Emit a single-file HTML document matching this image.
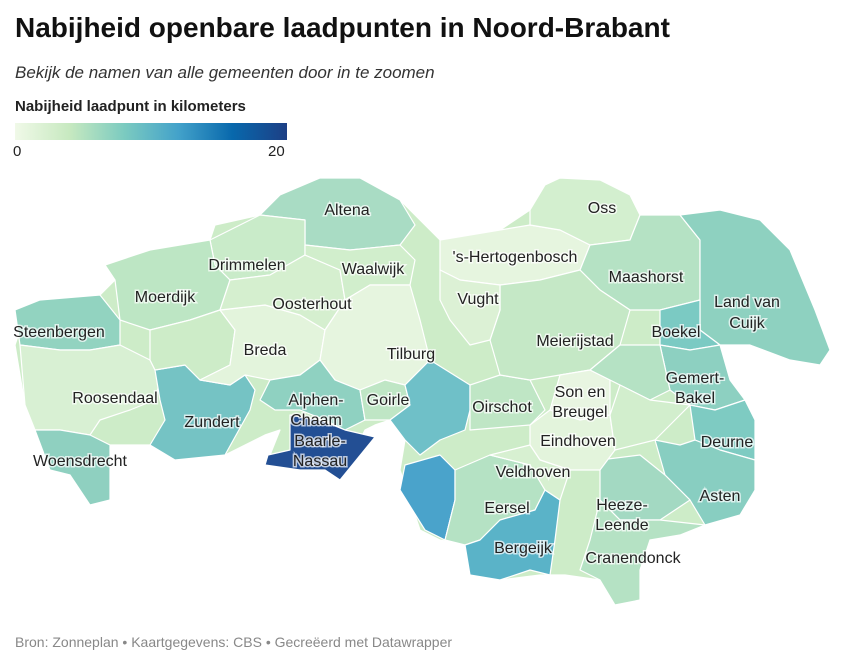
<!DOCTYPE html>
<html><head><meta charset="utf-8"><style>
body{margin:0;background:#fff;width:849px;height:666px;overflow:hidden;font-family:"Liberation Sans",sans-serif;}
.t{position:absolute;left:15px;top:12px;font-size:28px;font-weight:bold;color:#111;}
.s{position:absolute;left:15px;top:63px;font-size:17px;font-style:italic;color:#333;}
.lt{position:absolute;left:15px;top:98px;font-size:15px;font-weight:bold;color:#222;}
.bar{position:absolute;left:15px;top:123px;width:272px;height:17px;background:linear-gradient(to right,#f0f9e8,#c7e9c0,#7ccbc0,#43a2ca,#0868ac,#1d3f85);}
.l0{position:absolute;left:13px;top:143px;font-size:15px;color:#222}
.l20{position:absolute;left:268px;top:143px;font-size:15px;color:#222}
.f{position:absolute;left:15px;top:634px;font-size:14px;color:#888}
svg{position:absolute;left:0;top:0}
svg polygon{stroke:#fff;stroke-width:1.2;stroke-linejoin:round}
svg text{font-family:"Liberation Sans",sans-serif;font-size:16px;fill:#222;paint-order:stroke;stroke:rgba(255,255,255,0.7);stroke-width:3px;text-anchor:middle}
</style></head><body>
<div class="t">Nabijheid openbare laadpunten in Noord-Brabant</div>
<div class="s">Bekijk de namen van alle gemeenten door in te zoomen</div>
<div class="lt">Nabijheid laadpunt in kilometers</div>
<div class="bar"></div><div class="l0">0</div><div class="l20">20</div>
<svg width="849" height="666">
<polygon fill="#cdecc8" points="105,265 150,250 210,240 215,225 260,215 280,195 320,178 360,178 400,200 420,220 440,240 470,235 500,230 530,210 545,185 560,178 600,180 630,195 640,215 680,215 720,210 760,220 790,250 815,310 830,350 820,365 790,360 750,345 720,345 730,380 745,400 755,420 755,490 740,515 705,525 680,535 650,540 640,570 640,600 615,605 600,580 565,575 540,575 500,580 470,575 465,545 440,540 420,530 400,470 405,440 390,420 375,425 365,430 345,470 300,465 265,460 270,455 280,430 265,435 255,440 225,455 175,460 150,445 110,445 110,500 90,505 70,475 50,470 35,430 25,405 15,345 20,330 15,310 40,300 100,295 115,280"/>
<polygon fill="#a9dcc4" points="260,215 280,195 320,178 360,178 400,200 415,225 400,245 350,250 305,245 305,220"/>
<polygon fill="#c9ebc9" points="210,240 260,215 305,220 305,255 270,275 230,280 215,265"/>
<polygon fill="#bde6c4" points="105,265 150,250 210,240 215,265 230,280 220,310 190,320 150,330 120,320 115,280"/>
<polygon fill="#92d3c0" points="15,310 40,300 100,295 120,320 120,345 90,350 60,350 20,345"/>
<polygon fill="#d8f0d3" points="20,345 60,350 90,350 120,345 150,360 160,380 155,400 130,410 100,420 90,435 60,430 35,430 25,405"/>
<polygon fill="#8fd0c0" points="35,430 60,430 90,435 110,445 110,500 90,505 70,475 50,470"/>
<polygon fill="#75c3c4" points="155,370 185,365 200,380 230,385 245,375 255,390 250,410 225,455 175,460 150,445 165,420 160,400"/>
<polygon fill="#cdecc8" points="150,330 190,320 220,310 235,330 230,365 200,380 185,365 155,370 150,360"/>
<polygon fill="#e3f4dc" points="220,310 265,305 300,315 325,330 320,360 300,375 270,380 245,375 230,385 200,380 230,365 235,330"/>
<polygon fill="#d5efcf" points="230,280 270,275 305,255 340,270 345,300 325,330 300,315 265,305 220,310"/>
<polygon fill="#d1eecc" points="305,245 350,250 400,245 415,260 410,285 370,285 345,300 340,270 305,255"/>
<polygon fill="#e6f5df" points="325,330 345,300 370,285 410,285 420,320 430,360 405,385 385,380 360,390 335,380 320,360"/>
<polygon fill="#8fd1c1" points="270,380 300,375 320,360 335,380 360,390 365,420 345,430 325,420 300,410 275,410 260,400"/>
<polygon fill="#234f94" points="290,415 320,420 345,430 375,437 340,480 325,470 300,470 265,465 268,455 290,450"/>
<polygon fill="#bfe6c5" points="360,390 385,380 405,385 410,405 390,420 365,420"/>
<polygon fill="#6fc0c8" points="405,385 430,360 470,385 470,410 465,430 440,440 420,455 405,440 390,420 410,405"/>
<polygon fill="#4aa3cb" points="405,465 440,455 455,470 455,500 445,540 425,530 400,490"/>
<polygon fill="#bfe6c5" points="470,385 500,375 530,380 545,410 530,425 470,430"/>
<polygon fill="#b5e2c4" points="455,470 490,455 530,465 545,490 535,510 500,520 480,540 465,545 445,540 455,500"/>
<polygon fill="#5ab3c8" points="480,540 500,520 535,510 545,490 560,500 555,540 550,575 530,570 500,580 470,575 465,545"/>
<polygon fill="#e6f5df" points="440,240 470,235 500,230 530,225 560,230 590,245 580,270 540,280 500,285 460,280 440,270"/>
<polygon fill="#d3efcf" points="530,210 545,185 560,178 600,180 630,195 640,215 630,240 590,245 560,230 530,225"/>
<polygon fill="#b5e2c4" points="590,245 630,240 640,215 680,215 700,240 700,300 660,310 630,310 600,290 580,270"/>
<polygon fill="#8ed1c0" points="680,215 720,210 760,220 790,250 815,310 830,350 820,365 790,360 750,345 720,345 700,330 700,240"/>
<polygon fill="#7bcac3" points="660,310 700,300 700,330 720,345 690,350 660,345"/>
<polygon fill="#8dd0c1" points="660,345 690,350 720,345 730,380 745,400 715,410 690,405 670,390"/>
<polygon fill="#7ecbc2" points="690,405 715,410 745,400 755,420 755,460 720,450 695,440"/>
<polygon fill="#88cec1" points="655,440 680,445 695,440 720,450 755,460 755,490 740,515 705,525 690,500 665,475"/>
<polygon fill="#a3d9c2" points="600,460 640,455 665,475 690,500 660,520 620,520 600,500"/>
<polygon fill="#b5e2c4" points="600,500 620,520 660,520 705,525 680,535 650,540 640,570 640,600 615,605 600,580 580,570 590,540"/>
<polygon fill="#c5e8c6" points="500,285 540,280 580,270 600,290 630,310 620,345 590,370 560,375 530,380 500,375 490,340 500,310"/>
<polygon fill="#dcf1d5" points="440,270 460,280 500,285 500,310 490,340 470,345 450,320 440,300"/>
<polygon fill="#e8f5e1" points="560,375 590,370 610,380 610,415 580,420 550,410"/>
<polygon fill="#e3f4dc" points="530,425 550,410 580,420 610,415 615,450 600,470 570,470 540,460 530,445"/>
<polygon fill="#d7f0d1" points="490,455 530,445 540,460 570,470 560,500 545,490 530,465"/>
<polygon fill="#b5e2c4" points="620,345 660,345 670,390 650,400 620,385 610,380 590,370"/>
<polygon fill="#d2eecd" points="615,450 655,440 690,405 650,400 620,385 610,415"/>
<text x="347" y="215">Altena</text>
<text x="602" y="213">Oss</text>
<text x="247" y="270">Drimmelen</text>
<text x="373" y="274">Waalwijk</text>
<text x="515" y="262">'s-Hertogenbosch</text>
<text x="646" y="282">Maashorst</text>
<text x="165" y="302">Moerdijk</text>
<text x="312" y="309">Oosterhout</text>
<text x="478" y="304">Vught</text>
<text x="747" y="307">Land van</text>
<text x="747" y="328">Cuijk</text>
<text x="59" y="337">Steenbergen</text>
<text x="676" y="337">Boekel</text>
<text x="575" y="346">Meierijstad</text>
<text x="265" y="355">Breda</text>
<text x="411" y="359">Tilburg</text>
<text x="695" y="383">Gemert-</text>
<text x="695" y="403">Bakel</text>
<text x="580" y="397">Son en</text>
<text x="580" y="417">Breugel</text>
<text x="115" y="403">Roosendaal</text>
<text x="316" y="405">Alphen-</text>
<text x="316" y="425">Chaam</text>
<text x="388" y="405">Goirle</text>
<text x="502" y="412">Oirschot</text>
<text x="212" y="427">Zundert</text>
<text x="320" y="446">Baarle-</text>
<text x="320" y="466">Nassau</text>
<text x="578" y="446">Eindhoven</text>
<text x="727" y="447">Deurne</text>
<text x="80" y="466">Woensdrecht</text>
<text x="533" y="477">Veldhoven</text>
<text x="720" y="501">Asten</text>
<text x="622" y="510">Heeze-</text>
<text x="622" y="530">Leende</text>
<text x="507" y="513">Eersel</text>
<text x="523" y="553">Bergeijk</text>
<text x="633" y="563">Cranendonck</text>
</svg>
<div class="f">Bron: Zonneplan • Kaartgegevens: CBS • Gecreëerd met Datawrapper</div>
</body></html>
